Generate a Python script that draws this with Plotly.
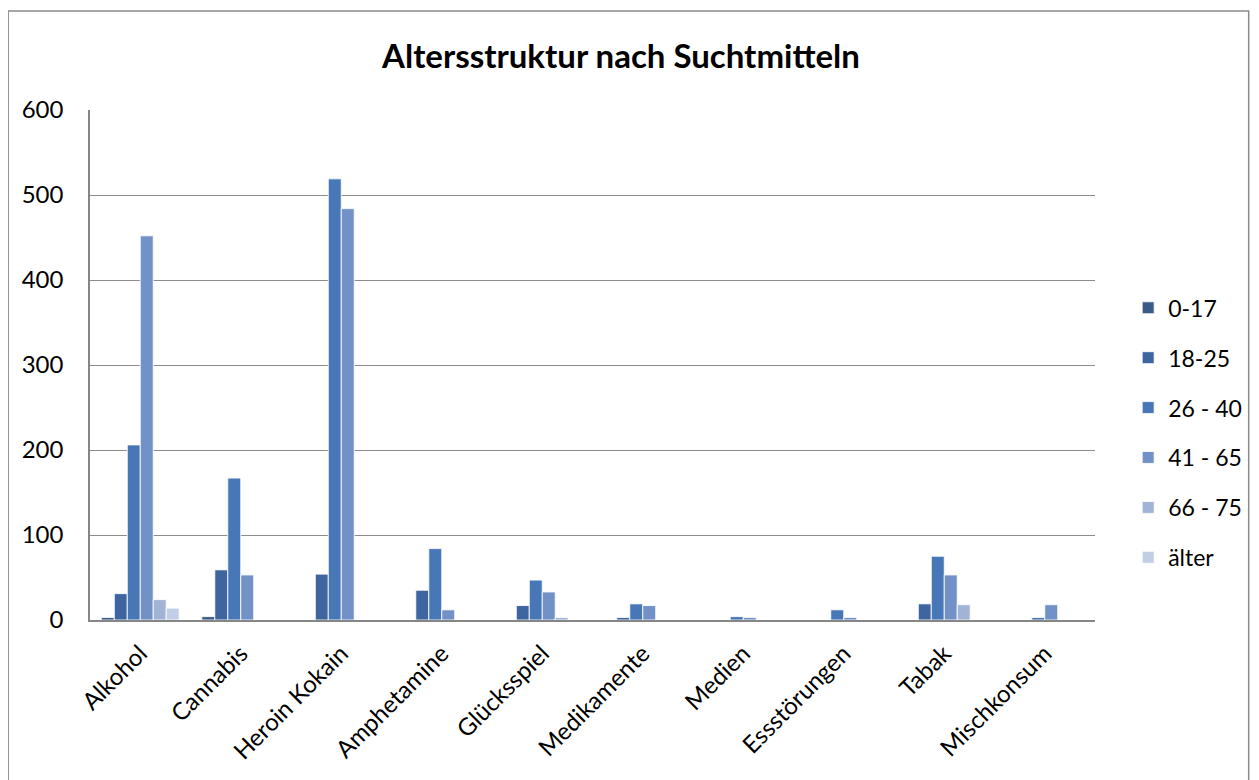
import plotly.graph_objects as go

categories = ["Alkohol", "Cannabis", "Heroin Kokain", "Amphetamine", "Glücksspiel",
              "Medikamente", "Medien", "Essstörungen", "Tabak", "Mischkonsum"]
series_names = ["0-17", "18-25", "26 - 40", "41 - 65", "66 - 75", "älter"]

v_0_17 = [3, 4, 0, 0, 0, 0, 0, 0, 0, 0]
v_18_25 = [31, 59, 54, 35, 17, 3, 0, 0, 19, 0]
v_26_40 = [206, 167, 519, 84, 47, 19, 4, 12, 75, 3]
v_41_65 = [452, 53, 484, 12, 33, 17, 3, 3, 53, 18]
v_66_75 = [24, 0, 0, 0, 3, 0, 0, 0, 18, 0]
v_aelter = [14, 0, 0, 0, 0, 0, 0, 0, 0, 0]

y_ticks = [0, 100, 200, 300, 400, 500, 600]

series_values = [v_0_17, v_18_25, v_26_40, v_41_65, v_66_75, v_aelter]
colors = ["#3A5A87", "#3F65A0", "#4877B8", "#7292C7", "#A2B4D6", "#C2CEE5"]

FONT = "Lato"

fig = go.Figure()
for i, (name, vals, col) in enumerate(zip(series_names, series_values, colors)):
    fig.add_trace(go.Bar(
        x=categories, y=vals, name=name,
        marker=dict(color=col, line=dict(color="rgba(255,255,255,0.85)", width=1)),
        legendgroup=name,
    ))

fig.update_layout(
    width=1251, height=772,
    margin=dict(l=82, r=162, t=102, b=160),
    paper_bgcolor="white", plot_bgcolor="white",
    barmode="group", bargap=0.225, bargroupgap=0,
    font=dict(family=FONT, size=24, color="black"),
    title=dict(text="<b>Altersstruktur nach Suchtmitteln</b>",
               font=dict(family=FONT, size=33, color="black"),
               x=0.49, xanchor="center", y=0.937, yanchor="middle"),
    showlegend=True,
    legend=dict(x=1.033, xanchor="left", y=0.367, yanchor="middle",
                traceorder="grouped", tracegroupgap=17,
                font=dict(family=FONT, size=23, color="black"),
                bgcolor="rgba(0,0,0,0)"),
    xaxis=dict(showline=True, linecolor="#868686", linewidth=2, showgrid=False,
               tickangle=-45, ticks="", tickfont=dict(family=FONT, size=24),
               ticklabelstandoff=8),
    yaxis=dict(range=[0, 600], tickvals=y_ticks, showline=True, linecolor="#868686",
               linewidth=1.5, showgrid=True, gridcolor="#8C8C8C", gridwidth=1.2,
               zeroline=False, ticks="", ticklen=0, tickfont=dict(family=FONT, size=24),
               ticklabelstandoff=20),
    shapes=[dict(type="rect", xref="paper", yref="paper",
                 x0=-82 / 1007, x1=1161 / 1007, y0=-200 / 510, y1=609 / 510,
                 line=dict(color="#8C8C8C", width=1.5), fillcolor="rgba(0,0,0,0)",
                 layer="below")],
)

fig.write_html("out.html")
